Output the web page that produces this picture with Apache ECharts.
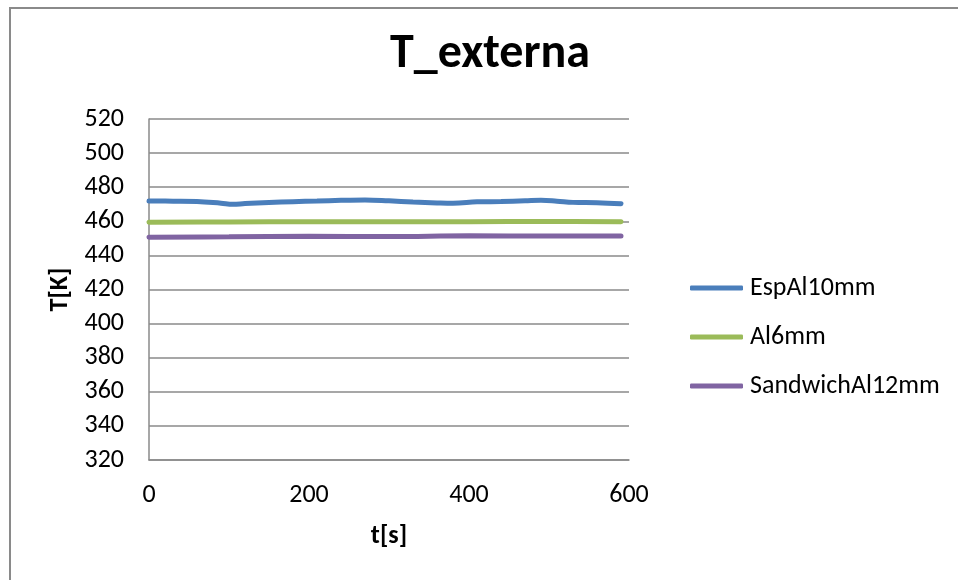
<!DOCTYPE html>
<html>
<head>
<meta charset="utf-8">
<script src="https://cdn.jsdelivr.net/npm/echarts@6/dist/echarts.min.js"></script>
<style>
html,body{margin:0;padding:0;background:#fff;}
#c{width:958px;height:580px;}
</style>
</head>
<body>
<div id="c"></div>
<script>
var seriesNames = ['EspAl10mm', 'Al6mm', 'SandwichAl12mm'];
var yTicks = [320, 340, 360, 380, 400, 420, 440, 460, 480, 500, 520];
var xTicks = [0, 200, 400, 600];

var tEsp = [0, 30, 60, 90, 105, 120, 150, 180, 210, 240, 270, 300, 330, 360, 380, 410, 440, 470, 490, 510, 530, 560, 590];
var vEsp = [471.9, 471.8, 471.6, 470.6, 470.0, 470.4, 471.0, 471.5, 471.9, 472.3, 472.5, 472.0, 471.3, 470.8, 470.6, 471.4, 471.6, 472.0, 472.3, 471.8, 471.1, 470.9, 470.3];

var tAl6 = [0, 100, 200, 300, 400, 500, 590];
var vAl6 = [459.4, 459.6, 459.8, 459.7, 459.8, 459.9, 459.8];

var tSand = [0, 100, 200, 300, 400, 500, 590];
var vSand = [450.6, 450.9, 451.2, 451.1, 451.5, 451.4, 451.4];

var colors = ['#4a7ebb', '#9bbb59', '#8064a2'];

function pairs(t, v) {
  var out = [];
  for (var i = 0; i < t.length; i++) out.push([t[i], v[i]]);
  return out;
}

var FONT = 'Carlito, "Liberation Sans", sans-serif';

var chart = echarts.init(document.getElementById('c'));
var seriesData = [pairs(tEsp, vEsp), pairs(tAl6, vAl6), pairs(tSand, vSand)];

chart.setOption({
  animation: false,
  backgroundColor: '#ffffff',
  color: colors,
  title: {
    text: 'T_externa',
    left: 490,
    textAlign: 'center',
    top: 31,
    padding: 0,
    textStyle: { fontFamily: FONT, fontSize: 48, fontWeight: 'bold', color: '#000' }
  },
  graphic: [{
    type: 'rect',
    shape: { x: 10, y: 8, width: 1200, height: 1200 },
    style: { fill: 'none', stroke: '#8a8a8a', lineWidth: 2 },
    silent: true
  }],
  legend: {
    orient: 'vertical',
    left: 690,
    top: 275,
    padding: 0,
    itemWidth: 53,
    itemHeight: 5,
    itemGap: 23,
    icon: 'roundRect',
    data: seriesNames,
    textStyle: { fontFamily: FONT, fontSize: 26, color: '#000', lineHeight: 26, padding: [0, 0, 0, 2] }
  },
  grid: { left: 149, top: 119, width: 480, height: 341, containLabel: false },
  xAxis: {
    type: 'value',
    min: 0, max: 600, interval: 200,
    name: 't[s]',
    nameLocation: 'middle',
    nameGap: 63,
    nameTextStyle: { fontFamily: FONT, fontSize: 26, fontWeight: 'bold', color: '#000' },
    axisLine: { show: true, lineStyle: { color: '#8a8a8a', width: 1.5 } },
    axisTick: { show: false },
    splitLine: { show: false },
    axisLabel: { margin: 22, fontFamily: FONT, fontSize: 26, color: '#000',
      formatter: function (v) { return xTicks.indexOf(v) >= 0 ? String(v) : ''; } }
  },
  yAxis: {
    type: 'value',
    min: 320, max: 520, interval: 20,
    name: 'T[K]',
    nameLocation: 'middle',
    nameGap: 76,
    nameRotate: 90,
    nameTextStyle: { fontFamily: FONT, fontSize: 26, fontWeight: 'bold', color: '#000' },
    axisLine: { show: true, lineStyle: { color: '#8a8a8a', width: 1.5 } },
    axisTick: { show: false },
    splitLine: { show: true, lineStyle: { color: '#8a8a8a', width: 1.5 } },
    axisLabel: { margin: 25, fontFamily: FONT, fontSize: 26, color: '#000',
      formatter: function (v) { return yTicks.indexOf(v) >= 0 ? String(v) : ''; } }
  },
  series: seriesNames.map(function (n, i) {
    return {
      name: n,
      type: 'line',
      smooth: 0.4,
      symbol: 'none',
      data: seriesData[i],
      lineStyle: { width: 5, color: colors[i], cap: 'round' },
      itemStyle: { color: colors[i] }
    };
  })
});
</script>
</body>
</html>
